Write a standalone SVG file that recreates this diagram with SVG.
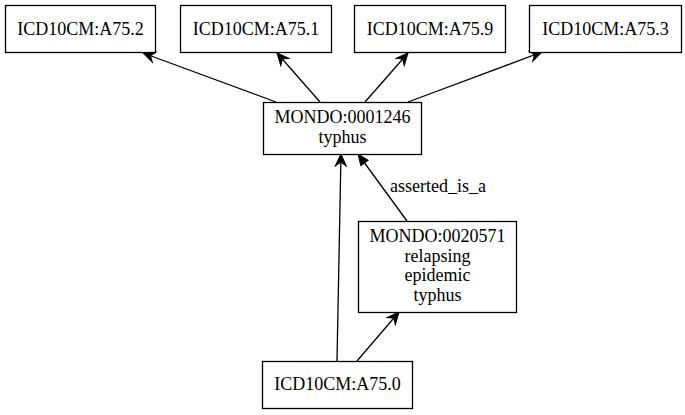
<svg xmlns="http://www.w3.org/2000/svg" width="685" height="415" viewBox="0 0 685 415">
<style>
.n rect{fill:#fff;stroke:#000;stroke-width:1.3}
text{font-family:"Liberation Serif","Times New Roman",serif;font-size:18px;text-anchor:middle;fill:#000}
.e{stroke:#000;stroke-width:1.3;fill:none}
.v{marker-end:url(#vee)}
.t{marker-end:url(#tri)}
</style>
<defs>
<marker id="vee" markerUnits="userSpaceOnUse" viewBox="-13 -7 14 14" refX="0" refY="0" markerWidth="14" markerHeight="14" orient="auto">
<path d="M0,0 L-12,-5.5 L-8,0 L-12,5.5 Z" fill="#000" stroke="#000" stroke-width="1"/>
</marker>
<marker id="tri" markerUnits="userSpaceOnUse" viewBox="-13 -7 14 14" refX="0" refY="0" markerWidth="14" markerHeight="14" orient="auto">
<path d="M0,0 L-11,-4.5 L-11,4.5 Z" fill="#000" stroke="#000" stroke-width="1"/>
</marker>
</defs>
<rect width="685" height="415" fill="#fff"/>
<g id="edges">
<line class="e v" x1="276" y1="102" x2="143" y2="53"/>
<line class="e v" x1="320" y1="102" x2="277" y2="53"/>
<line class="e v" x1="365" y1="102" x2="408" y2="53"/>
<line class="e v" x1="408" y1="102" x2="542" y2="52"/>
<line class="e v" x1="337" y1="361" x2="341" y2="154"/>
<line class="e v" x1="357" y1="361" x2="399" y2="312"/>
<line class="e t" x1="407" y1="221" x2="358" y2="154"/>
<text x="438" y="192">asserted_is_a</text>
</g>
<g id="A75_2" class="n"><rect x="5.5" y="5.5" width="150" height="47"/><text x="80.5" y="34.5">ICD10CM:A75.2</text></g>
<g id="A75_1" class="n"><rect x="180.5" y="5.5" width="151" height="47"/><text x="256" y="34.5">ICD10CM:A75.1</text></g>
<g id="A75_9" class="n"><rect x="354.5" y="5.5" width="151" height="47"/><text x="430" y="34.5">ICD10CM:A75.9</text></g>
<g id="A75_3" class="n"><rect x="529.5" y="5.5" width="152" height="47"/><text x="605.5" y="34.5">ICD10CM:A75.3</text></g>
<g id="MONDO_0001246" class="n"><rect x="263.5" y="102.5" width="158" height="52"/><text x="342.5" y="123">MONDO:0001246</text><text x="342.5" y="143">typhus</text></g>
<g id="MONDO_0020571" class="n"><rect x="358.5" y="221.5" width="158" height="91"/><text x="437.5" y="242">MONDO:0020571</text><text x="437.5" y="261.5">relapsing</text><text x="437.5" y="281">epidemic</text><text x="437.5" y="300.5">typhus</text></g>
<g id="A75_0" class="n"><rect x="262.5" y="361.5" width="150" height="47"/><text x="337.5" y="390">ICD10CM:A75.0</text></g>
</svg>
